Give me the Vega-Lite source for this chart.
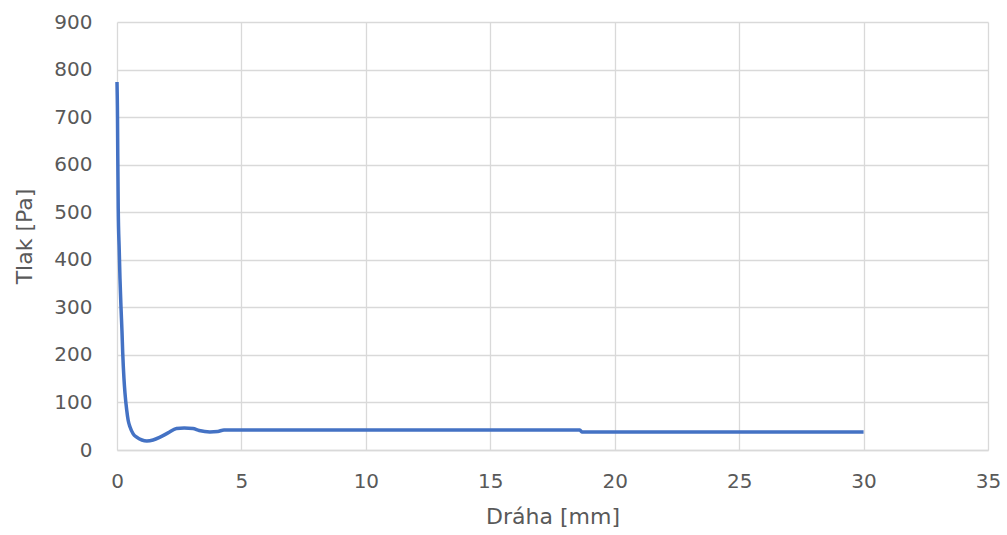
{
  "$schema": "https://vega.github.io/schema/vega-lite/v6.json",
  "autosize": {"type": "none"},
  "width": 871,
  "height": 428,
  "padding": {"left": 117, "top": 22, "right": 19, "bottom": 85},
  "background": "white",
  "config": {
    "view": {"stroke": null},
    "font": "DejaVu Sans",
    "axis": {
      "labelFont": "DejaVu Sans",
      "titleFont": "DejaVu Sans",
      "labelColor": "#595959",
      "titleColor": "#595959",
      "labelFontSize": 20,
      "titleFontSize": 22,
      "titleFontWeight": "normal",
      "gridColor": "#d9d9d9",
      "gridWidth": 1.3,
      "ticks": false
    }
  },
  "data": {
    "values": [
      {"x": 0.0, "y": 774},
      {"x": 0.02, "y": 700},
      {"x": 0.03, "y": 624},
      {"x": 0.05, "y": 505},
      {"x": 0.09, "y": 420},
      {"x": 0.12, "y": 360},
      {"x": 0.16, "y": 301},
      {"x": 0.2, "y": 250},
      {"x": 0.23, "y": 204},
      {"x": 0.28, "y": 150},
      {"x": 0.32, "y": 120},
      {"x": 0.39, "y": 84},
      {"x": 0.45, "y": 62},
      {"x": 0.52, "y": 49},
      {"x": 0.65, "y": 34},
      {"x": 0.79, "y": 27},
      {"x": 1.0, "y": 21},
      {"x": 1.2, "y": 19},
      {"x": 1.45, "y": 21},
      {"x": 1.73, "y": 27},
      {"x": 2.05, "y": 36},
      {"x": 2.39, "y": 45},
      {"x": 2.7, "y": 46},
      {"x": 3.05, "y": 45},
      {"x": 3.3, "y": 41},
      {"x": 3.73, "y": 38},
      {"x": 4.05, "y": 39},
      {"x": 4.3, "y": 42},
      {"x": 8.0, "y": 42},
      {"x": 12.0, "y": 42},
      {"x": 16.0, "y": 42},
      {"x": 18.6, "y": 42},
      {"x": 18.68, "y": 38},
      {"x": 22.0, "y": 38},
      {"x": 26.0, "y": 38},
      {"x": 30.0, "y": 38}
    ]
  },
  "mark": {"type": "line", "color": "#4472c4", "strokeWidth": 3.5, "interpolate": "monotone"},
  "encoding": {
    "x": {
      "field": "x",
      "type": "quantitative",
      "scale": {"domain": [0, 35], "nice": false},
      "axis": {
        "title": "Dráha [mm]",
        "values": [0, 5, 10, 15, 20, 25, 30, 35],
        "labelPadding": 21,
        "titlePadding": 15,
        "domainColor": "#d9d9d9",
        "domainWidth": 1.3,
        "grid": true,
        "labelFlush": false
      }
    },
    "y": {
      "field": "y",
      "type": "quantitative",
      "scale": {"domain": [0, 900], "nice": false},
      "axis": {
        "title": "Tlak [Pa]",
        "values": [0, 100, 200, 300, 400, 500, 600, 700, 800, 900],
        "labelPadding": 25,
        "titlePadding": 17,
        "domain": false,
        "grid": true,
        "labelFlush": false
      }
    }
  }
}
